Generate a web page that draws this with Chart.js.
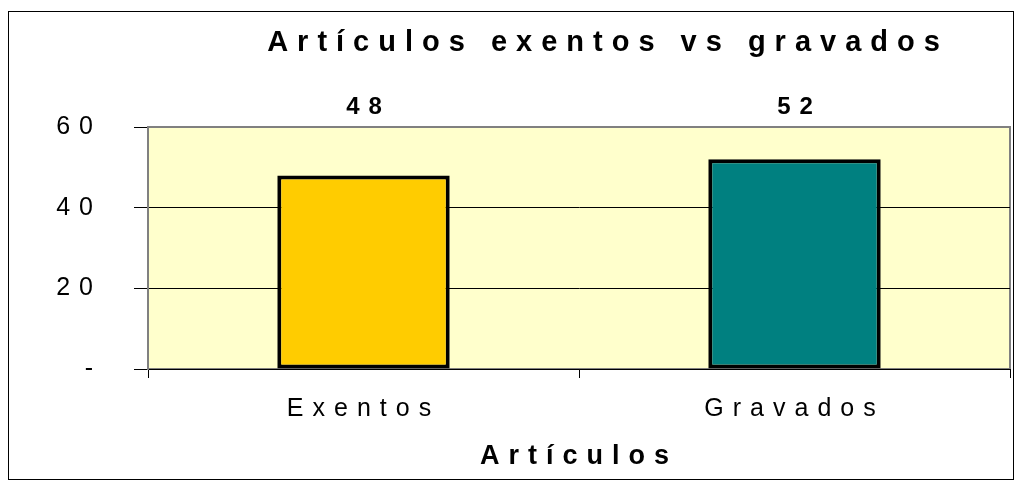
<!DOCTYPE html>
<html>
<head>
<meta charset="utf-8">
<script src="https://cdn.jsdelivr.net/npm/chart.js@4/dist/chart.umd.min.js"></script>
<style>
  html, body { margin: 0; padding: 0; background: #fff; }
  canvas { display: block; }
</style>
</head>
<body>
<canvas id="myChart" width="1021" height="487"></canvas>
<script>
// chart data
var categories = ['Exentos', 'Gravados'];
var articulos = [48, 52];
var chartTitle = 'Artículos exentos vs gravados';
var xTitle = 'Artículos';
var yMax = 60;
var yStep = 20;

var fontFamily = "'Liberation Sans', Arial, sans-serif";

// wide Excel-like letter spacing for all canvas text
var spacing = {
  id: 'spacing',
  beforeUpdate: function (chart) { chart.ctx.letterSpacing = '9px'; },
  beforeDraw: function (chart) { chart.ctx.letterSpacing = '9px'; }
};

// plot background, outer frame, title and value labels
var decor = {
  id: 'decor',
  beforeDraw: function (chart) {
    var ctx = chart.ctx, a = chart.chartArea;
    ctx.save();
    ctx.fillStyle = '#FFFFCC';
    ctx.fillRect(a.left, a.top, a.right - a.left, a.bottom - a.top);
    ctx.strokeStyle = '#808080';
    ctx.lineWidth = 2;
    ctx.strokeRect(a.left, a.top, a.right - a.left, a.bottom - a.top);
    ctx.strokeStyle = '#000';
    ctx.lineWidth = 1;
    ctx.strokeRect(8.5, 11.5, 1005, 468);
    ctx.restore();
  },
  afterDatasetsDraw: function (chart) {
    var ctx = chart.ctx;
    ctx.save();
    ctx.fillStyle = '#000';
    ctx.textAlign = 'center';
    ctx.textBaseline = 'middle';
    ctx.font = 'bold 29px ' + fontFamily;
    ctx.fillText(chartTitle, 608, 43);
    ctx.font = 'bold 24px ' + fontFamily;
    chart.getDatasetMeta(0).data.forEach(function (bar, i) {
      ctx.fillText(articulos[i], bar.x + 5, 107);
    });
    ctx.restore();
  }
};

var ctx = document.getElementById('myChart');
var myChart = new Chart(ctx, {
  type: 'bar',
  data: {
    labels: categories,
    datasets: [{
      data: articulos,
      backgroundColor: ['#FFCC00', '#008080'],
      borderColor: '#000',
      borderWidth: 4,
      borderSkipped: false,
      barPercentage: 0.4,
      categoryPercentage: 1
    }]
  },
  options: {
    responsive: false,
    animation: false,
    layout: { padding: { top: 127, right: 11, left: 0, bottom: 0 } },
    plugins: {
      legend: { display: false },
      tooltip: { enabled: false }
    },
    scales: {
      x: {
        grid: { drawOnChartArea: false, tickLength: 9, color: '#000', offset: true },
        border: { color: '#000', width: 1 },
        ticks: {
          color: '#000',
          padding: 16,
          font: { family: fontFamily, size: 25 }
        },
        title: {
          display: true,
          text: xTitle,
          color: '#000',
          font: { family: fontFamily, size: 27, weight: 'bold' },
          padding: { top: 0, bottom: 14 }
        },
        afterFit: function (scale) { scale.height = 118; }
      },
      y: {
        min: 0,
        max: yMax,
        grid: {
          tickLength: 14,
          color: function (c) { return c.tick && c.tick.value === yMax ? '#808080' : '#000'; },
          tickColor: '#000'
        },
        border: { color: '#808080', width: 2 },
        ticks: {
          stepSize: yStep,
          color: '#000',
          padding: 32,
          font: { family: fontFamily, size: 25 },
          callback: function (v) { return v === 0 ? '-' : v; }
        },
        afterFit: function (scale) { scale.width = 148; }
      }
    }
  },
  plugins: [spacing, decor]
});
</script>
</body>
</html>
